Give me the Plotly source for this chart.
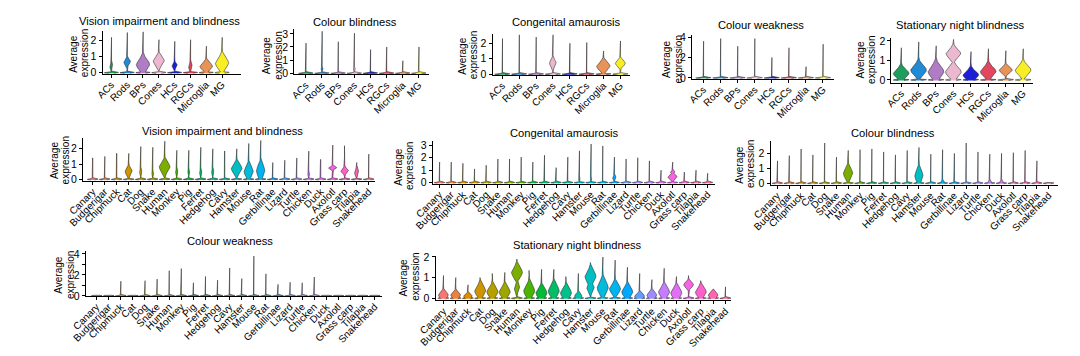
import math
import numpy as np
import plotly.graph_objects as go

# ---------------- categories ----------------
CELL_TYPES = ["ACs", "Rods", "BPs", "Cones", "HCs", "RGCs", "Microglia", "MG"]
SPECIES = ["Canary", "Budgerigar", "Chipmuck", "Cat", "Dog", "Snake", "Human", "Monkey",
           "Pig", "Ferret", "Hedgehog", "Cavy", "Hamster", "Mouse", "Rat", "Gerbillinae",
           "Lizard", "Turtle", "Chicken", "Duck", "Axolotl", "Grass carp", "Tilapia", "Snakehead"]
CELL_COLORS = ["#1e9e5c", "#1f8ad6", "#b07cc6", "#ebb8cf", "#1b1fd6", "#e3475f", "#e8935a", "#f7ee25"]

TITLES = ["Vision impairment and blindness", "Colour blindness", "Congenital amaurosis",
          "Colour weakness", "Stationary night blindness",
          "Vision impairment and blindness", "Congenital amaurosis", "Colour blindness",
          "Colour weakness", "Stationary night blindness"]
Y_TITLE_LINES = ["Average", "expression"]

# ---------------- violin data (expression, estimated) ----------------
# TOP = maximum expression (end of tail); MID/HALF/WIDE = main body centre, half-height, half-width
# Panel 1: cell types, vision impairment and blindness
P1_TOP = [2.2, 2.5, 2.55, 2.05, 1.95, 2.05, 1.65, 2.2]
P1_MID = [0.4, 0.67, 0.5, 0.72, 0.45, 0.38, 0.38, 0.58]
P1_HALF = [0.2, 0.22, 0.45, 0.35, 0.18, 0.22, 0.3, 0.45]
P1_WIDE = [0.1, 0.22, 0.42, 0.35, 0.17, 0.12, 0.4, 0.42]
# Panel 2: cell types, colour blindness
P2_TOP = [2.3, 3.2, 2.4, 3.05, 1.8, 2.0, 0.95, 2.0]
P2_MID = [0, 0.35, 0, 0.35, 0, 0, 0, 0]
P2_HALF = [0, 0.12, 0, 0.12, 0, 0, 0, 0]
P2_WIDE = [0, 0.06, 0, 0.06, 0, 0, 0, 0]
# Panel 3: cell types, congenital amaurosis
P3_TOP = [2.3, 2.55, 2.4, 2.55, 2.0, 2.05, 1.5, 2.15]
P3_MID = [0, 0, 0, 0.7, 0, 0, 0.5, 0.7]
P3_HALF = [0, 0, 0, 0.3, 0, 0, 0.35, 0.25]
P3_WIDE = [0, 0, 0, 0.2, 0, 0, 0.4, 0.3]
# Panel 4: cell types, colour weakness
P4_TOP = [3.6, 3.85, 3.1, 3.85, 2.0, 2.95, 1.1, 3.3]
P4_MID = [0, 0, 0, 0, 0, 0, 0, 0]
P4_HALF = [0, 0, 0, 0, 0, 0, 0, 0]
P4_WIDE = [0, 0, 0, 0, 0, 0, 0, 0]
# Panel 5: cell types, stationary night blindness
P5_TOP = [1.65, 1.95, 1.75, 2.08, 1.45, 1.6, 1.5, 1.6]
P5_MID = [0.33, 0.5, 0.42, 0.4, 0.25, 0.42, 0.5, 0.5]
P5_HALF = [0.3, 0.35, 0.4, 0.35, 0.28, 0.33, 0.2, 0.33]
P5_WIDE = [0.45, 0.45, 0.45, 0.45, 0.45, 0.45, 0.38, 0.45]
P5_MID2 = [0, 0, 0, 1.35, 0, 0, 0, 0]
P5_HALF2 = [0, 0, 0, 0.3, 0, 0, 0, 0]
P5_WIDE2 = [0, 0, 0, 0.42, 0, 0, 0, 0]
# Panel 6: species, vision impairment and blindness
P6_TOP = [1.4, 1.5, 1.7, 1.7, 2.15, 2.1, 2.5, 1.9, 1.9, 2.1, 2.0, 1.85,
          2.0, 2.35, 2.55, 1.1, 1.25, 1.4, 1.85, 1.3, 2.25, 2.2, 1.1, 1.65]
P6_MID = [0.35, 0, 0.5, 0.5, 0.5, 0.4, 0.8, 0.5, 0.5, 0.45, 0.5, 0.35,
          0.7, 0.5, 0.55, 0, 0, 0, 0.35, 0.3, 0.75, 0.55, 0.45, 0]
P6_HALF = [0.12, 0, 0.12, 0.3, 0.15, 0.12, 0.4, 0.15, 0.12, 0.15, 0.15, 0.1,
           0.38, 0.45, 0.5, 0, 0, 0, 0.12, 0.1, 0.1, 0.2, 0.25, 0]
P6_WIDE = [0.06, 0, 0.07, 0.3, 0.1, 0.08, 0.45, 0.1, 0.08, 0.1, 0.1, 0.06,
           0.45, 0.38, 0.35, 0, 0, 0, 0.08, 0.06, 0.35, 0.32, 0.18, 0]
# Panel 7: species, congenital amaurosis
P7_TOP = [1.65, 1.65, 1.55, 1.1, 1.4, 1.9, 1.9, 2.05, 1.65, 2.2, 1.2, 2.05,
          2.55, 3.1, 2.95, 2.05, 1.9, 2.0, 1.75, 1.0, 1.65, 0.85, 1.0, 0.75]
P7_MID = [0, 0, 0, 0, 0, 0, 0, 0.3, 0, 0, 0, 0,
          0.25, 0.25, 0, 0.4, 0, 0, 0, 0, 0.45, 0, 0, 0]
P7_HALF = [0, 0, 0, 0, 0, 0, 0, 0.1, 0, 0, 0, 0,
           0.12, 0.12, 0, 0.15, 0, 0, 0, 0, 0.25, 0, 0, 0]
P7_WIDE = [0, 0, 0, 0, 0, 0, 0, 0.05, 0, 0, 0, 0,
           0.07, 0.07, 0, 0.15, 0, 0, 0, 0, 0.4, 0, 0, 0]
P7_MID2 = [0] * 20 + [0.85, 0, 0, 0]
P7_HALF2 = [0] * 20 + [0.12, 0, 0, 0]
P7_WIDE2 = [0] * 20 + [0.2, 0, 0, 0]
# Panel 8: species, colour blindness
P8_TOP = [1.5, 1.85, 2.3, 1.9, 2.7, 1.75, 2.2, 2.25, 2.3, 2.1, 1.9, 2.2,
          2.4, 1.95, 2.25, 2.0, 2.7, 2.1, 1.95, 2.0, 2.05, 2.2, 1.5, 0]
P8_MID = [0, 0, 0, 0, 0, 0, 0.65, 0, 0, 0, 0, 0,
          0.5, 0, 0.1, 0, 0, 0, 0.1, 0.1, 0, 0, 0, 0]
P8_HALF = [0, 0, 0, 0, 0, 0, 0.45, 0, 0, 0, 0, 0,
           0.5, 0, 0.1, 0, 0, 0, 0.1, 0.1, 0, 0, 0, 0]
P8_WIDE = [0, 0, 0, 0, 0, 0, 0.4, 0, 0, 0, 0, 0,
           0.35, 0, 0.15, 0, 0, 0, 0.15, 0.15, 0, 0, 0, 0]
# Panel 9: species, colour weakness
P9_TOP = [0, 0, 1.4, 0, 1.45, 1.6, 2.4, 2.6, 1.25, 1.85, 1.5, 2.65,
          1.65, 3.8, 2.1, 1.1, 1.3, 1.25, 1.8, 0, 0, 0, 0, 0]
P9_MID = [0] * 24
P9_HALF = [0] * 24
P9_WIDE = [0] * 24
# Panel 10: species, stationary night blindness
P10_TOP = [1.1, 1.0, 0.65, 1.0, 1.2, 1.25, 1.9, 1.35, 1.4, 1.4, 1.05, 1.2,
           1.73, 2.0, 1.85, 1.5, 1.2, 0.9, 1.45, 1.05, 1.1, 0.85, 0.45, 0.55]
P10_MID = [0.15, 0.15, 0.1, 0.35, 0.3, 0.3, 0.5, 0.35, 0.25, 0.35, 0.25, 0.1,
           0.5, 0.5, 0.45, 0.3, 0.1, 0.15, 0.3, 0.25, 0.65, 0.3, 0.15, 0]
P10_HALF = [0.2, 0.18, 0.12, 0.32, 0.3, 0.3, 0.22, 0.35, 0.3, 0.35, 0.3, 0.15,
            0.25, 0.4, 0.3, 0.3, 0.15, 0.2, 0.3, 0.3, 0.18, 0.28, 0.18, 0]
P10_WIDE = [0.4, 0.4, 0.35, 0.45, 0.45, 0.45, 0.22, 0.45, 0.45, 0.45, 0.45, 0.3,
            0.3, 0.45, 0.45, 0.45, 0.4, 0.4, 0.45, 0.45, 0.4, 0.45, 0.4, 0]
P10_MID2 = [0] * 6 + [1.25] + [0] * 5 + [1.05] + [0] * 11
P10_HALF2 = [0] * 6 + [0.32] + [0] * 5 + [0.35] + [0] * 11
P10_WIDE2 = [0] * 6 + [0.45] + [0] * 5 + [0.45] + [0] * 11

Y_TICKS = [[0, 1, 2], [0, 1, 2, 3], [0, 1, 2], [0, 2, 4], [0, 1, 2],
           [0, 1, 2], [0, 1, 2, 3], [0, 1, 2], [0, 2, 4], [0, 1, 2]]


# ---------------- styling / layout helpers ----------------
def hcl_hex(h, c=100.0, l=65.0):
    hr = math.radians(h)
    U, V = c * math.cos(hr), c * math.sin(hr)
    Xn, Yn, Zn = 95.047, 100.0, 108.883
    Y = Yn * ((l + 16) / 116) ** 3
    den = Xn + 15 * Yn + 3 * Zn
    un, vn = 4 * Xn / den, 9 * Yn / den
    u, v = U / (13 * l) + un, V / (13 * l) + vn
    X = Y * 9 * u / (4 * v)
    Z = Y * (12 - 3 * u - 20 * v) / (4 * v)
    X, Y, Z = X / 100, Y / 100, Z / 100
    rgb = [3.2404542 * X - 1.5371385 * Y - 0.4985314 * Z,
           -0.9692660 * X + 1.8760108 * Y + 0.0415560 * Z,
           0.0556434 * X - 0.2040259 * Y + 1.0572252 * Z]
    out = []
    for ch in rgb:
        ch = 12.92 * ch if ch <= 0.0031308 else 1.055 * ch ** (1 / 2.4) - 0.055
        out.append(int(round(min(max(ch, 0), 1) * 255)))
    return "#%02x%02x%02x" % tuple(out)


SPECIES_COLORS = [hcl_hex(15 + 15 * i) for i in range(len(SPECIES))]

W, H = 1080, 356
FONT = "Liberation Sans, Arial, sans-serif"

# pixel geometry: axis-left, axis-right, top, axis-bottom; x range; y range;
# title centre (tt) and y-title centre (at)
GEOM = [
    dict(l=85, r=226, t=27, b=71, xr=(-0.56, 8.2), yr=(-0.09, 2.58), tt=(143, 16), at=(61, 50)),
    dict(l=280, r=417, t=25, b=71.5, xr=(-0.73, 7.61), yr=(-0.1, 3.35), tt=(342, 18), at=(258, 52)),
    dict(l=482, r=622, t=30, b=72, xr=(-0.58, 7.58), yr=(-0.06, 2.59), tt=(557, 17), at=(457, 52)),
    dict(l=685, r=830, t=31, b=76, xr=(-0.67, 7.67), yr=(-0.1, 4.19), tt=(755, 21), at=(665, 56)),
    dict(l=888, r=1032, t=34, b=80, xr=(-0.56, 7.56), yr=(-0.15, 2.15), tt=(958, 21), at=(862, 56)),
    dict(l=65, r=362, t=137, b=181, xr=(-0.82, 23.5), yr=(-0.11, 2.7), tt=(207, 130), at=(42, 160)),
    dict(l=421, r=708, t=140, b=184, xr=(-0.59, 23.6), yr=(-0.1, 3.34), tt=(555, 132), at=(392, 166)),
    dict(l=765, r=1058, t=140, b=185, xr=(-0.58, 23.83), yr=(-0.11, 2.83), tt=(890, 132), at=(739, 164)),
    dict(l=68, r=370, t=253, b=299.5, xr=(-0.89, 23.65), yr=(-0.02, 4.29), tt=(215, 243), at=(46, 278)),
    dict(l=424, r=725, t=258, b=304, xr=(-0.64, 23.48), yr=(-0.11, 2.06), tt=(568, 247), at=(397, 280)),
]

PANEL_DATA = [
    (CELL_TYPES, CELL_COLORS, P1_TOP, P1_MID, P1_HALF, P1_WIDE, None),
    (CELL_TYPES, CELL_COLORS, P2_TOP, P2_MID, P2_HALF, P2_WIDE, None),
    (CELL_TYPES, CELL_COLORS, P3_TOP, P3_MID, P3_HALF, P3_WIDE, None),
    (CELL_TYPES, CELL_COLORS, P4_TOP, P4_MID, P4_HALF, P4_WIDE, None),
    (CELL_TYPES, CELL_COLORS, P5_TOP, P5_MID, P5_HALF, P5_WIDE, (P5_MID2, P5_HALF2, P5_WIDE2)),
    (SPECIES, SPECIES_COLORS, P6_TOP, P6_MID, P6_HALF, P6_WIDE, None),
    (SPECIES, SPECIES_COLORS, P7_TOP, P7_MID, P7_HALF, P7_WIDE, (P7_MID2, P7_HALF2, P7_WIDE2)),
    (SPECIES, SPECIES_COLORS, P8_TOP, P8_MID, P8_HALF, P8_WIDE, None),
    (SPECIES, SPECIES_COLORS, P9_TOP, P9_MID, P9_HALF, P9_WIDE, None),
    (SPECIES, SPECIES_COLORS, P10_TOP, P10_MID, P10_HALF, P10_WIDE, (P10_MID2, P10_HALF2, P10_WIDE2)),
]

BASE_HALF_WIDTH = 0.45
TAIL_HALF_WIDTH = 0.012
BASE_HALF_PX = 0.7


def violin_outline(i, top, bodies, bh):
    y_end = max(top, bh)
    y = np.linspace(-bh, y_end, 260)
    parts = [BASE_HALF_WIDTH * np.exp(-(y / bh) ** 4),
             np.full_like(y, TAIL_HALF_WIDTH if top > 0 else 0.0)]
    for mid, half, wide in bodies:
        if half > 0 and wide > 0:
            parts.append(wide * np.exp(-((y - mid) / half) ** 2))
    hw = np.maximum.reduce(parts)
    xs = np.concatenate([i + hw, (i - hw)[::-1]])
    ys = np.concatenate([y, y[::-1]])
    return xs, ys


fig = go.Figure()
layout = dict(width=W, height=H, margin=dict(l=0, r=0, t=0, b=0), autosize=False,
              paper_bgcolor="white", plot_bgcolor="white", showlegend=False,
              font=dict(family=FONT, color="black", size=10))
annotations = []

for p, (g, (cats, colors, top, mid, half, wide, second)) in enumerate(zip(GEOM, PANEL_DATA)):
    k = p + 1
    xa = "x" if k == 1 else f"x{k}"
    ya = "y" if k == 1 else f"y{k}"
    px_per_unit = (g["b"] - g["t"]) / (g["yr"][1] - g["yr"][0])
    bh = BASE_HALF_PX / px_per_unit
    for i, cat in enumerate(cats):
        bodies = [(mid[i], half[i], wide[i])]
        if second is not None:
            bodies.append((second[0][i], second[1][i], second[2][i]))
        xs, ys = violin_outline(i, top[i], bodies, bh)
        fig.add_trace(go.Scatter(x=xs, y=ys, mode="lines", fill="toself",
                                 fillcolor=colors[i], line=dict(color="#262626", width=0.55),
                                 hoverinfo="skip", xaxis=xa, yaxis=ya, name=cat))
    xkey = "xaxis" if k == 1 else f"xaxis{k}"
    ykey = "yaxis" if k == 1 else f"yaxis{k}"
    layout[xkey] = dict(domain=[g["l"] / W, g["r"] / W], range=list(g["xr"]), anchor=ya,
                        tickvals=list(range(len(cats))), ticktext=cats, tickangle=-45,
                        ticks="outside", ticklen=3, tickwidth=1, tickcolor="black",
                        ticklabelstandoff=-3,
                        showline=True, linecolor="black", linewidth=1,
                        showgrid=False, zeroline=False,
                        tickfont=dict(size=10, family=FONT, color="black"))
    ydict = dict(domain=[1 - g["b"] / H, 1 - g["t"] / H], range=list(g["yr"]), anchor=xa,
                 tickvals=Y_TICKS[p], ticks="outside", ticklen=3, tickwidth=1, tickcolor="black",
                 showline=True, linecolor="black", linewidth=1,
                 showgrid=False, zeroline=False,
                 tickfont=dict(size=10.5, family=FONT, color="black"))
    if p == 8:
        ydict["minor"] = dict(tickvals=[1, 3], ticks="outside", ticklen=3, tickcolor="black")
    layout[ykey] = ydict
    annotations.append(dict(text=TITLES[p], x=g["tt"][0] / W, y=1 - g["tt"][1] / H,
                            xref="paper", yref="paper", showarrow=False,
                            xanchor="center", yanchor="middle",
                            font=dict(size=11.2, family=FONT, color="black")))
    for j, line in enumerate(Y_TITLE_LINES):
        cx = g["at"][0] + (j - 0.5) * 11.5
        annotations.append(dict(text=line, x=cx / W, y=1 - g["at"][1] / H,
                                xref="paper", yref="paper", showarrow=False, textangle=-90,
                                xanchor="center", yanchor="middle",
                                font=dict(size=10, family=FONT, color="black")))

layout["annotations"] = annotations
fig.update_layout(**layout)
fig.write_html("out.html",
               config={"displayModeBar": False, "staticPlot": True},
               post_script="document.body.style.margin='0';document.body.style.overflow='hidden';")
